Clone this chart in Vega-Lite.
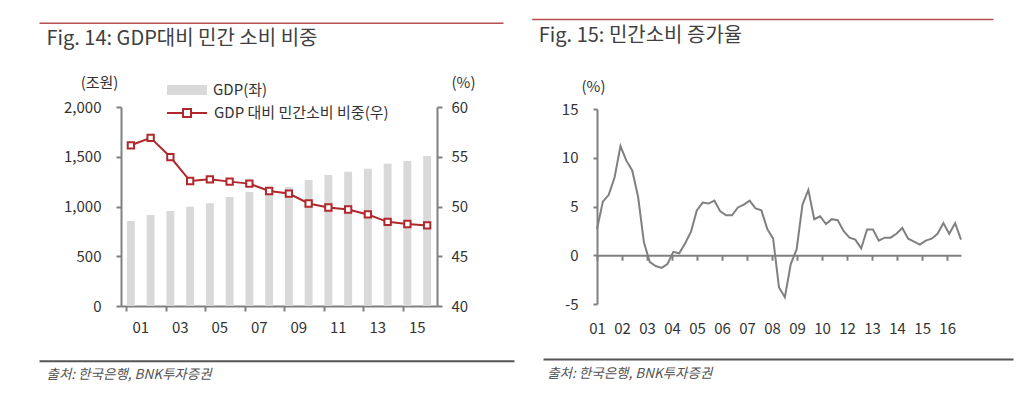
{
  "$schema": "https://vega.github.io/schema/vega-lite/v6.json",
  "padding": {"left": 38, "top": 19, "right": 0, "bottom": 0},
  "spacing": -65,
  "align": "none",
  "bounds": "full",
  "config": {
    "view": {"stroke": null},
    "font": "Noto Sans CJK KR",
    "axis": {
      "labelFont": "Noto Sans CJK KR",
      "labelFontSize": 15,
      "labelColor": "#333333",
      "titleFont": "Noto Sans CJK KR",
      "titleFontSize": 15,
      "titleFontWeight": "normal",
      "titleColor": "#333333",
      "domainColor": "#808080",
      "domainWidth": 2,
      "tickColor": "#808080",
      "tickWidth": 2,
      "tickSize": 5,
      "grid": false
    },
    "legend": {
      "labelFont": "Noto Sans CJK KR",
      "labelFontSize": 15,
      "labelColor": "#333333",
      "labelLimit": 400,
      "padding": 0,
      "offset": 0
    }
  },
  "hconcat": [
    {
      "width": 316,
      "height": 199,
      "data": {"values": [
        {"yr": "01", "gdp": 854, "share": 56.15},
        {"yr": "02", "gdp": 914, "share": 56.9},
        {"yr": "03", "gdp": 955, "share": 54.97},
        {"yr": "04", "gdp": 998, "share": 52.56},
        {"yr": "05", "gdp": 1032, "share": 52.73},
        {"yr": "06", "gdp": 1095, "share": 52.5},
        {"yr": "07", "gdp": 1146, "share": 52.3},
        {"yr": "08", "gdp": 1180, "share": 51.56},
        {"yr": "09", "gdp": 1195, "share": 51.3},
        {"yr": "10", "gdp": 1266, "share": 50.3},
        {"yr": "11", "gdp": 1317, "share": 49.9},
        {"yr": "12", "gdp": 1350, "share": 49.7},
        {"yr": "13", "gdp": 1380, "share": 49.2},
        {"yr": "14", "gdp": 1430, "share": 48.46},
        {"yr": "15", "gdp": 1457, "share": 48.24},
        {"yr": "16", "gdp": 1508, "share": 48.1}
      ]},
      "layer": [
        {
          "mark": {"type": "bar"},
          "encoding": {
            "x": {"field": "yr", "type": "ordinal",
              "scale": {"paddingInner": 0.6, "paddingOuter": 0.3},
              "axis": {"orient": "bottom", "values": ["01","03","05","07","09","11","13","15"],
                "bandPosition": 0, "labelOffset": 9.9, "labelAngle": 0, "labelPadding": 9, "title": null}},
            "y": {"field": "gdp", "type": "quantitative",
              "scale": {"domain": [0, 2000], "nice": false},
              "axis": {"orient": "left", "values": [0, 500, 1000, 1500, 2000], "format": ",.0f",
                "labelPadding": 15, "title": "(조원)", "titleAngle": 0, "titleX": -22, "titleY": -25,
                "titleAlign": "center", "titleBaseline": "middle"}},
            "fill": {"datum": "GDP(좌)", "type": "nominal",
              "scale": {"range": ["#d9d9d9"]},
              "legend": {"orient": "none", "legendX": 45, "legendY": -38, "title": null,
                "symbolType": "M-1,-0.25H1V0.25H-1Z", "symbolSize": 1600, "labelOffset": 5}}
          }
        },
        {
          "mark": {"type": "line", "strokeWidth": 2},
          "encoding": {
            "x": {"field": "yr", "type": "ordinal",
              "scale": {"paddingInner": 0.6, "paddingOuter": 0.3}, "axis": null},
            "y": {"field": "share", "type": "quantitative",
              "scale": {"domain": [40, 60], "nice": false, "zero": false},
              "axis": {"orient": "right", "values": [40, 45, 50, 55, 60], "labelPadding": 9,
                "title": "(%)", "titleAngle": 0, "titleX": 26, "titleY": -25,
                "titleAlign": "center", "titleBaseline": "middle"}},
            "stroke": {"datum": "GDP 대비 민간소비  비중(우)", "type": "nominal",
              "scale": {"range": ["#b0282c"]},
              "legend": {"orient": "none", "legendX": 45, "legendY": -15, "title": null,
                "symbolType": "M-1,0H-0.2M0.2,0H1M-0.2,-0.2H0.2V0.2H-0.2Z", "symbolSize": 1600,
                "symbolStrokeWidth": 2, "symbolFillColor": "white", "labelOffset": 6}}
          }
        },
        {
          "mark": {"type": "square", "size": 40, "fill": "white", "stroke": "#b0282c", "strokeWidth": 2, "opacity": 1},
          "encoding": {
            "x": {"field": "yr", "type": "ordinal",
              "scale": {"paddingInner": 0.6, "paddingOuter": 0.3}, "axis": null},
            "y": {"field": "share", "type": "quantitative",
              "scale": {"domain": [40, 60], "nice": false, "zero": false}, "axis": null}
          }
        },
        {
          "mark": {"type": "tick", "opacity": 0},
          "encoding": {
            "x": {"datum": 0, "type": "quantitative",
              "scale": {"domain": [0, 1], "range": [-82, 382]},
              "axis": {"orient": "bottom", "offset": -283.3, "domainColor": "#b5504f", "domainWidth": 1.5,
                "ticks": false, "labels": false,
                "title": "Fig. 14: GDP대비 민간 소비 비중", "titleX": -75, "titleY": 16,
                "titleAlign": "left", "titleBaseline": "middle", "titleFontSize": 20, "titleColor": "#404040"}}
          }
        },
        {
          "mark": {"type": "tick", "opacity": 0},
          "encoding": {
            "x": {"datum": 0, "type": "quantitative",
              "scale": {"domain": [0, 1], "range": [-82, 393]},
              "axis": {"orient": "bottom", "offset": 54.7, "domainColor": "#555555", "domainWidth": 2,
                "ticks": false, "labels": false,
                "title": "출처: 한국은행, BNK투자증권", "titleX": -75, "titleY": 14,
                "titleAlign": "left", "titleBaseline": "middle", "titleFontSize": 13.5,
                "titleFontStyle": "italic", "titleColor": "#555555"}}
          }
        }
      ],
      "resolve": {"scale": {"x": "independent", "y": "independent", "fill": "independent", "stroke": "independent"}}
    },
    {
      "width": 364,
      "height": 199,
      "data": {"values": [
        {"i": 0, "v": 2.7}, {"i": 1, "v": 5.5}, {"i": 2, "v": 6.2}, {"i": 3, "v": 8.0},
        {"i": 4, "v": 11.2}, {"i": 5, "v": 9.7}, {"i": 6, "v": 8.7}, {"i": 7, "v": 6.0},
        {"i": 8, "v": 1.3}, {"i": 9, "v": -0.7}, {"i": 10, "v": -1.1}, {"i": 11, "v": -1.3},
        {"i": 12, "v": -0.9}, {"i": 13, "v": 0.35}, {"i": 14, "v": 0.2}, {"i": 15, "v": 1.2},
        {"i": 16, "v": 2.4}, {"i": 17, "v": 4.6}, {"i": 18, "v": 5.4}, {"i": 19, "v": 5.3},
        {"i": 20, "v": 5.6}, {"i": 21, "v": 4.5}, {"i": 22, "v": 4.1}, {"i": 23, "v": 4.1},
        {"i": 24, "v": 4.9}, {"i": 25, "v": 5.2}, {"i": 26, "v": 5.6}, {"i": 27, "v": 4.8},
        {"i": 28, "v": 4.6}, {"i": 29, "v": 2.7}, {"i": 30, "v": 1.7}, {"i": 31, "v": -3.3},
        {"i": 32, "v": -4.3}, {"i": 33, "v": -0.9}, {"i": 34, "v": 0.6}, {"i": 35, "v": 5.2},
        {"i": 36, "v": 6.7}, {"i": 37, "v": 3.7}, {"i": 38, "v": 4.0}, {"i": 39, "v": 3.2},
        {"i": 40, "v": 3.7}, {"i": 41, "v": 3.6}, {"i": 42, "v": 2.5}, {"i": 43, "v": 1.8},
        {"i": 44, "v": 1.6}, {"i": 45, "v": 0.7}, {"i": 46, "v": 2.65}, {"i": 47, "v": 2.65},
        {"i": 48, "v": 1.5}, {"i": 49, "v": 1.8}, {"i": 50, "v": 1.8}, {"i": 51, "v": 2.2},
        {"i": 52, "v": 2.8}, {"i": 53, "v": 1.7}, {"i": 54, "v": 1.4}, {"i": 55, "v": 1.1},
        {"i": 56, "v": 1.5}, {"i": 57, "v": 1.7}, {"i": 58, "v": 2.2}, {"i": 59, "v": 3.3},
        {"i": 60, "v": 2.2}, {"i": 61, "v": 3.3}, {"i": 62, "v": 1.6}
      ]},
      "layer": [
        {
          "mark": {"type": "line", "color": "#808080", "strokeWidth": 2},
          "encoding": {
            "x": {"field": "i", "type": "quantitative",
              "scale": {"domain": [0, 62], "nice": false, "zero": false},
              "axis": {"orient": "bottom", "offset": -50.75,
                "values": [0, 4.26, 8.52, 12.78, 17.04, 21.3, 25.56, 29.82, 34.08, 38.34, 42.6, 46.86, 51.12, 55.38, 59.64],
                "labelExpr": "['01','02','03','04','05','06','07','08','09','10','12','13','14','15','16'][round(datum.value/4.26)]",
                "labelPadding": 61, "labelFlush": false, "labelOverlap": false, "labelAngle": 0, "title": null}},
            "y": {"field": "v", "type": "quantitative",
              "scale": {"domain": [-5, 15], "nice": false, "zero": false, "range": [197, 2]},
              "axis": {"orient": "left", "values": [-5, 0, 5, 10, 15], "labelExpr": "'' + datum.value",
                "tickSize": 4, "labelPadding": 15,
                "title": "(%)", "titleAngle": 0, "titleX": -4, "titleY": -21,
                "titleAlign": "center", "titleBaseline": "middle"}}
          }
        },
        {
          "mark": {"type": "tick", "opacity": 0},
          "encoding": {
            "x": {"datum": 0, "type": "quantitative",
              "scale": {"domain": [0, 1], "range": [-65.3, 396]},
              "axis": {"orient": "bottom", "offset": -287, "domainColor": "#b5504f", "domainWidth": 1.5,
                "ticks": false, "labels": false,
                "title": "Fig. 15: 민간소비 증가율", "titleX": -58.7, "titleY": 16,
                "titleAlign": "left", "titleBaseline": "middle", "titleFontSize": 20, "titleColor": "#404040"}}
          }
        },
        {
          "mark": {"type": "tick", "opacity": 0},
          "encoding": {
            "x": {"datum": 0, "type": "quantitative",
              "scale": {"domain": [0, 1], "range": [-54, 416]},
              "axis": {"orient": "bottom", "offset": 53, "domainColor": "#555555", "domainWidth": 2,
                "ticks": false, "labels": false,
                "title": "출처: 한국은행, BNK투자증권", "titleX": -50.3, "titleY": 14,
                "titleAlign": "left", "titleBaseline": "middle", "titleFontSize": 13.5,
                "titleFontStyle": "italic", "titleColor": "#555555"}}
          }
        }
      ],
      "resolve": {"scale": {"x": "independent"}}
    }
  ]
}
